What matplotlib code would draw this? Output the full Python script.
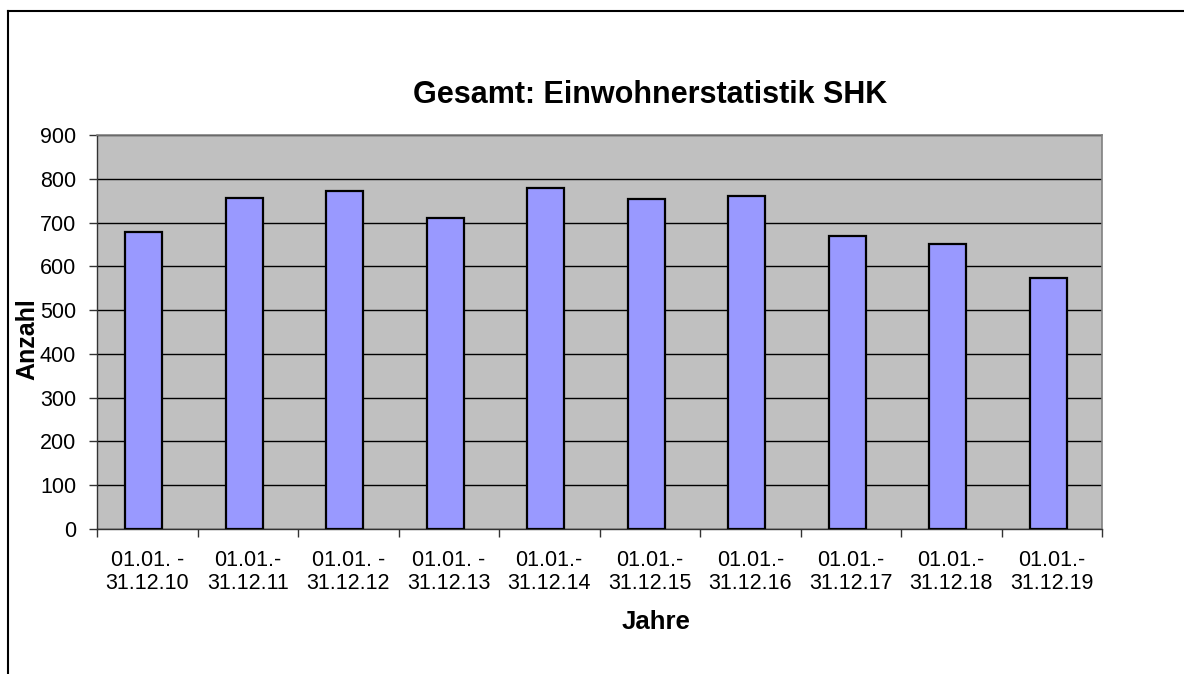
import numpy as np
import matplotlib.pyplot as plt
from matplotlib.lines import Line2D

# --- Dades ---
zeitraum = ["01.01. -\n31.12.10", "01.01.-\n31.12.11", "01.01. -\n31.12.12",
            "01.01. -\n31.12.13", "01.01.-\n31.12.14", "01.01.-\n31.12.15",
            "01.01.-\n31.12.16", "01.01.-\n31.12.17", "01.01.-\n31.12.18",
            "01.01.-\n31.12.19"]
anzahl = [679, 756, 773, 711, 778, 753, 761, 670, 650, 574]

plt.rcParams['font.family'] = ['Liberation Sans', 'DejaVu Sans']

fig = plt.figure(figsize=(11.84, 6.74), dpi=100)
ax = fig.add_axes([97 / 1184, 1 - 529 / 674, (1102 - 97) / 1184, (529 - 135) / 674])

x = np.arange(len(anzahl))
ax.set_facecolor('#C0C0C0')
ax.bar(x - 0.035, anzahl, width=0.37, color='#9999FF', edgecolor='black',
       linewidth=1.6, zorder=3)

ax.set_ylim(0, 900)
ax.set_xlim(-0.5, len(anzahl) - 0.5)
ax.set_yticks(range(0, 901, 100))
ax.yaxis.grid(True, color='black', linewidth=1.0, zorder=1)
ax.set_axisbelow(True)

# ticks at the category boundaries, labels at the centres
ax.set_xticks(np.arange(-0.5, len(anzahl), 1.0))
ax.set_xticklabels([])
ax.set_xticks(x, minor=True)
ax.set_xticklabels(zeitraum, minor=True, fontsize=15.5, linespacing=1.15)
ax.tick_params(axis='x', which='minor', length=0, pad=15)
ax.tick_params(axis='x', which='major', length=6, width=1, color='#333333')
ax.tick_params(axis='y', length=6, width=1, labelsize=15.5, pad=9, color='#333333')

for s in ['top', 'right']:
    ax.spines[s].set_color('#808080')
    ax.spines[s].set_linewidth(1.2)
for s in ['left', 'bottom']:
    ax.spines[s].set_color('#333333')
    ax.spines[s].set_linewidth(1.0)

fig.text(27 / 1184, 1 - 339 / 674, 'Anzahl', fontsize=18, fontweight='bold',
         rotation=90, ha='center', va='center')
fig.text(650 / 1184, 1 - 95 / 674, 'Gesamt: Einwohnerstatistik SHK',
         fontsize=22, fontweight='bold', ha='center', va='center')
fig.text(656 / 1184, 1 - 622 / 674, 'Jahre', fontsize=18.5, fontweight='bold',
         ha='center', va='center')

# chart frame (top and left edges visible)
fig.add_artist(Line2D([7.5 / 1184, 7.5 / 1184], [0, 1 - 10.5 / 674],
                      color='black', linewidth=1.5))
fig.add_artist(Line2D([7.5 / 1184, 1], [1 - 10.5 / 674, 1 - 10.5 / 674],
                      color='black', linewidth=1.5))

fig.savefig('out.png', dpi=100)
